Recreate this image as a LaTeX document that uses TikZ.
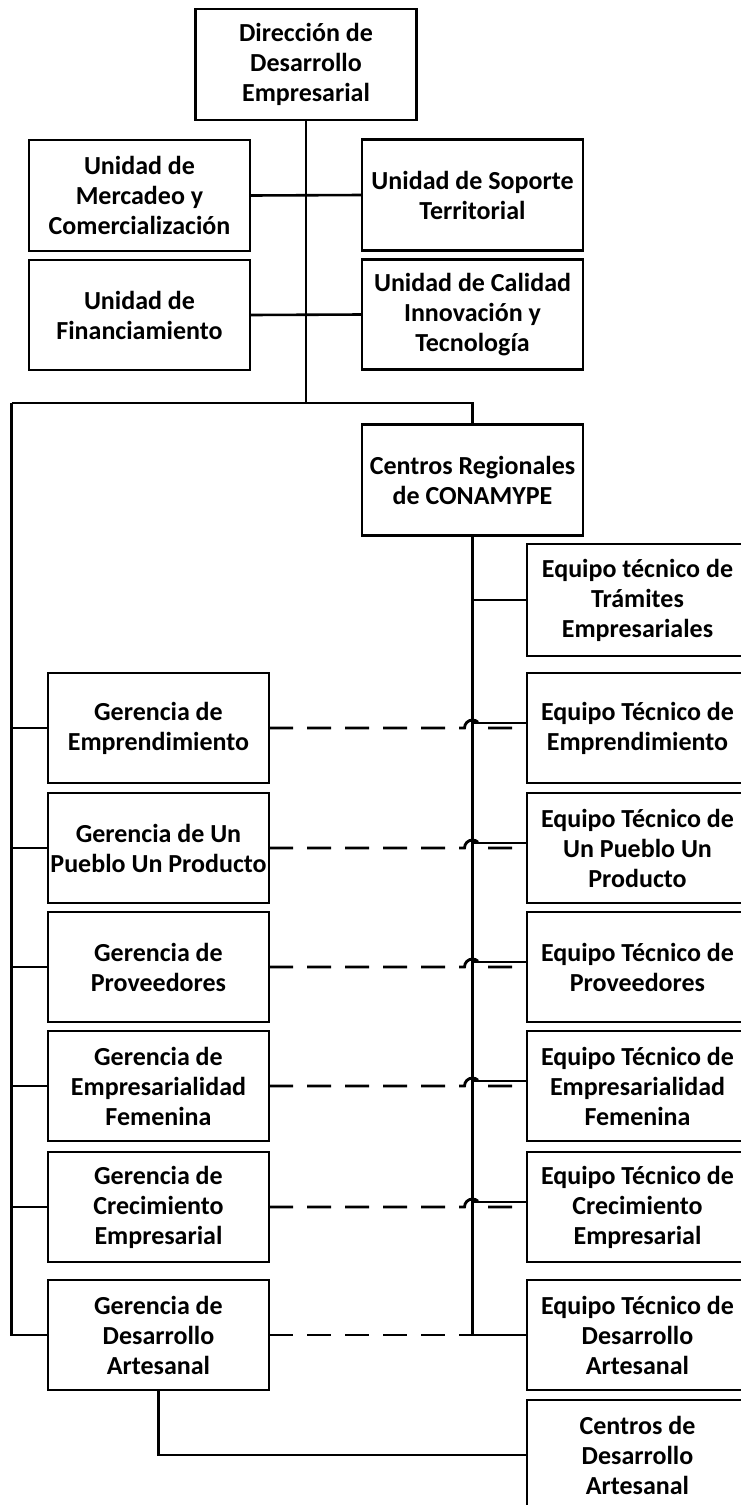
\documentclass[tikz,border=0pt]{standalone}
\usepackage{fontspec}
\setmainfont{Carlito}
\usetikzlibrary{positioning}
\tikzset{unit/.style={draw, line width=2.8pt, align=center, minimum width=221pt, minimum height=110pt, inner sep=2pt, outer sep=0pt, font=\fontsize{26}{30}\selectfont\bfseries}}

\begin{document}
\begin{tikzpicture}[x=1pt, y=-1pt, link/.style={line width=2.6pt}, dashlink/.style={line width=2.8pt, dash pattern=on 24pt off 14pt}]
\useasboundingbox (0,0) rectangle (741,1505);
\clip (0,0) rectangle (741,1505);
% upper part
\node[unit, minimum height=111pt] (d0) at (306,64.5) {Dirección de\\Desarrollo\\Empresarial};
\node[unit, minimum height=111pt] (u1) at (139.5,195.5) {Unidad de\\Mercadeo y\\Comercialización};
\node[unit, minimum height=111pt] (u2) at (472.5,195) {Unidad de Soporte\\Territorial};
\node[unit, below=9pt of u1] (u3) {Unidad de\\Financiamiento};
\node[unit, below=9pt of u2] (u4) {Unidad de Calidad\\Innovación y\\Tecnología};
\node[unit, minimum height=111pt, below=55pt of u4] (cr) {Centros Regionales\\de CONAMYPE};
% gerencias and equipos
\node[unit] (g1) at (158.5,728) {Gerencia de\\Emprendimiento};
\node[unit, below=10pt of g1] (g2) {Gerencia de Un\\Pueblo Un Producto};
\node[unit, below=9pt of g2] (g3) {Gerencia de\\Proveedores};
\node[unit, below=9pt of g3] (g4) {Gerencia de\\Empresarialidad\\Femenina};
\node[unit, below=11pt of g4] (g5) {Gerencia de\\Crecimiento\\Empresarial};
\node[unit, below=18pt of g5] (g6) {Gerencia de\\Desarrollo\\Artesanal};
\node[unit, right=258pt of g1] (e1) {Equipo Técnico de\\Emprendimiento};
\node[unit, right=258pt of g2] (e2) {Equipo Técnico de\\Un Pueblo Un\\Producto};
\node[unit, right=258pt of g3] (e3) {Equipo Técnico de\\Proveedores};
\node[unit, right=258pt of g4] (e4) {Equipo Técnico de\\Empresarialidad\\Femenina};
\node[unit, right=258pt of g5] (e5) {Equipo Técnico de\\Crecimiento\\Empresarial};
\node[unit, right=258pt of g6] (e6) {Equipo Técnico de\\Desarrollo\\Artesanal};
\node[unit, minimum height=112pt, above=17pt of e1] (tr) {Equipo técnico de\\Trámites\\Empresariales};
\node[unit, below=10pt of e6] (cd) {Centros de\\Desarrollo\\Artesanal};
\coordinate (bl) at (11.7,403);
\coordinate (br) at (472.5,403);
\coordinate (hl) at (464.5,536);
% connectors
\draw[link] (d0.south) -- (d0.south |- bl);
\draw[link] (u1.east) -- (u2.west);
\draw[link] (u3.east) -- (u4.west);
\draw[link] (bl) -- (br) -- (cr.north);
\draw[link] (bl) |- (g6.west);
\foreach \i in {1,...,5}
  \draw[link] (g\i.west) -- (g\i.west -| bl);
\draw[link] (cr.south) |- (e6.west);
\draw[link] (tr.west) -- (tr.west -| cr.south);
\foreach \i in {1,...,5}
  \draw[link] (e\i.west) ++(0,-5) -- ++(-54.5,0);
\foreach \i in {1,...,5}
  \draw[dashlink] (g\i.east) -- (g\i.east -| hl) arc[start angle=180, end angle=0, radius=8pt] -- (e\i.west);
\draw[dashlink] (g6.east) -- (e6.west);
\draw[link] (g6.south) |- (cd.west);
\end{tikzpicture}
\end{document}
